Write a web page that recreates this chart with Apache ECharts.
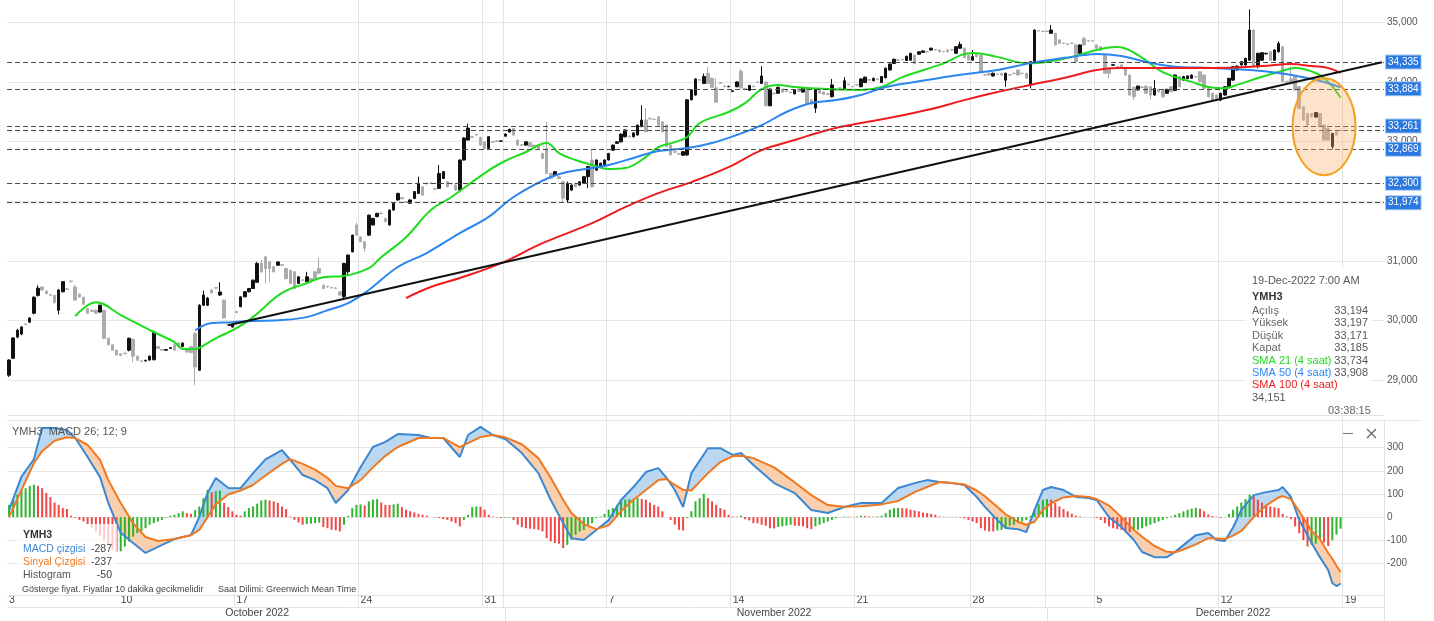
<!DOCTYPE html>
<html>
<head>
<meta charset="utf-8">
<title>YMH3 4 saat</title>
<script src="https://cdn.jsdelivr.net/npm/echarts/dist/echarts.min.js"></script>
<style>
  html, body { margin: 0; padding: 0; background: #fff; }
  #main { width: 1434px; height: 621px; }
</style>
</head>
<body>
<div id="main"></div>
<script>
// 4 saatlik mumlar: ayrı haftalar, her satır [açılış, kapanış, düşük, yüksek]
var oct03 = [
  [29080,29335,29050,29345],[29365,29705,29350,29720],[29720,29835,29700,29860],[29770,29890,29750,29900],[29940,29930,29920,29950],
  [29970,30040,29960,30050],[30120,30390,30100,30400],[30420,30540,30400,30590],[30560,30510,30500,30570],[30490,30450,30440,30500],
  [30430,30420,30410,30440],[30420,30300,30280,30430],[30170,30510,30100,30520],[30480,30650,30470,30660],[30530,30520,30510,30540],
  [30660,30650,30640,30670],[30560,30340,30330,30600],[30440,30390,30380,30450],[30390,30270,30260,30400],[30200,30120,30110,30210],
  [30170,30150,30140,30180],[30170,30120,30110,30180],[30140,30255,30130,30265],[30170,29700,29680,30180],[29700,29590,29580,29710],
  [29590,29500,29490,29600],[29500,29420,29410,29510]
];
var oct10 = [
  [29440,29410,29400,29450],[29450,29440,29430,29460],[29500,29700,29480,29710],[29680,29400,29300,29700],[29400,29330,29320,29410],
  [29320,29310,29300,29330],[29320,29330,29310,29340],[29335,29400,29320,29410],[29340,29800,29330,29830],[29560,29530,29520,29570],
  [29510,29500,29490,29520],[29500,29510,29490,29520],[29530,29540,29520,29550],[29590,29500,29490,29670],[29620,29560,29550,29630],
  [29560,29620,29550,29630],[29530,29470,29460,29540],[29560,29460,29450,29570],[29780,29220,28915,29800],[29165,30255,29150,30270],
  [30255,30425,30240,30500],[30255,30375,30240,30390],[30510,30460,30450,30520],[30550,30540,30530,30560],[30425,30475,30410,30640],
  [30340,30040,30030,30350],[29930,29920,29910,29940],[29890,29930,29880,29940]
];
var oct17 = [
  [30150,30130,30120,30160],[30230,30395,30220,30400],[30395,30480,30390,30490],[30480,30535,30470,30545],[30535,30675,30530,30685],
  [30640,30955,30630,30980],[30955,30815,30800,31010],[31065,30870,30620,31080],[30980,30870,30650,30990],[30900,30815,30805,30910],
  [30925,30980,30915,30990],[30935,30925,30915,30945],[30870,30700,30690,30880],[30840,30620,30610,30850],[30815,30535,30525,30825],
  [30620,30730,30610,30740],[30680,30670,30660,30690],[30650,30730,30640,30815],[30700,30675,30665,30710],[30815,30700,30690,30825],
  [30870,30790,30780,31050],[30590,30535,30525,30600],[30570,30560,30550,30580],[30550,30545,30535,30560],[30545,30535,30525,30555],
  [30480,30425,30415,30490],[30395,30955,30340,30965],[30815,31095,30760,31105],[31150,31430,31140,31440],[31600,31430,31420,31640]
];
var oct24 = [
  [31400,31320,31310,31410],[31320,31210,31150,31330],[31430,31765,31420,31775],[31600,31710,31590,31720],[31740,31795,31730,31805],
  [31800,31790,31780,31810],[31710,31655,31645,31720],[31600,31850,31590,31860],[31850,31965,31840,31975],[32020,32130,32010,32140],
  [32060,32040,32030,32070],[31990,31980,31970,32000],[31965,32020,31955,32030],[32045,32160,32035,32170],[32130,32300,32120,32410],
  [32240,32100,32090,32250],[32300,32290,32280,32310],[32300,32300,32290,32310],[32215,32200,32190,32225],[32215,32465,32205,32605],
  [32380,32495,32370,32505],[32325,32240,32230,32335],[32300,32290,32280,32310],[32270,32185,32175,32280],[32185,32690,32175,32700],
  [32690,33060,32680,33070],[33025,33225,33015,33300],[33080,33070,33060,33090],[33120,33110,33100,33130],[33070,32940,32930,33080]
];
var oct31 = [
  [32995,32885,32875,33005],[32885,33080,32875,33090],[33000,32990,32980,33010],[33010,33005,32995,33020],[33005,33010,32995,33020],
  [33090,33125,33080,33135],[33160,33205,33150,33215],[33220,33110,33100,33230],[33025,32940,32930,33035],[32945,32940,32930,32955],
  [32940,32995,32930,33005],[32980,32915,32905,32990],[32940,32900,32890,32950],[32940,32885,32875,32950],[32800,32715,32705,32810],
  [32885,32465,32455,33330],[32465,32380,32370,32475],[32435,32495,32425,32505],[32410,32380,32370,32420],[32325,32050,31990,32340],
  [32020,32300,31975,32330],[32185,32270,32175,32280],[32300,32240,32230,32310],[32270,32325,32260,32335],[32300,32410,32290,32420],
  [32410,32580,32220,32590],[32690,32240,32230,32870],[32520,32690,32510,32700],[32575,32635,32565,32645],[32605,32690,32595,32700]
];
var nov07 = [
  [32690,32800,32680,32810],[32855,32940,32845,32950],[32970,32995,32960,33005],[32995,33125,32985,33135],[33080,33195,33070,33205],
  [33090,33080,33070,33100],[33080,33145,33070,33155],[33110,33275,33100,33285],[33250,33360,33240,33610],[33360,33165,33155,33560],
  [33390,33380,33370,33400],[33375,33370,33360,33385],[33415,33275,33265,33425],[33330,33165,33155,33340],[33275,32915,32905,33285],
  [32940,32775,32765,32950],[32830,32820,32810,32840],[32800,32790,32780,32810],[32770,32830,32760,32840],[32775,33700,32760,33710],
  [33700,33870,33690,33880],[33780,34050,33770,34060],[34040,34030,34020,34050],[33975,34090,33965,34140],[34145,33975,33965,34250],
  [34060,33910,33900,34070],[33900,33660,33650,34060],[33990,33975,33965,34000],[33930,33920,33910,33940],[33920,33925,33910,33935]
];
var nov14 = [
  [33840,33850,33830,33860],[33920,34000,33910,34010],[34180,33900,33890,34215],[33890,33880,33870,33900],[33860,33940,33850,33950],
  [33930,33920,33910,33940],[34000,33990,33980,34010],[33975,34100,33965,34265],[34000,33600,33590,34010],[33600,33880,33590,33890],
  [33810,33800,33790,33820],[33810,33910,33800,33920],[33880,33830,33820,33890],[33850,33840,33830,33860],[33830,33820,33810,33840],
  [33800,33870,33790,33880],[33880,33840,33830,33890],[33830,33900,33820,33910],[33870,33640,33630,33880],[33700,33630,33620,33710],
  [33560,33880,33480,33890],[33880,33810,33800,33890],[33830,33790,33780,33840],[33800,33790,33780,33810],[33750,33950,33740,34050],
  [33880,33870,33860,33890],[33900,33895,33885,33910],[33880,34020,33870,34080],[33960,33950,33940,33970],[33925,33920,33910,33935]
];
var nov21 = [
  [33955,33950,33940,33965],[33920,34050,33910,34060],[33990,34080,33980,34090],[34040,34030,34020,34050],[34020,34060,34010,34070],
  [34050,34040,34030,34060],[33990,34090,33980,34100],[34070,34230,34060,34240],[34200,34300,34190,34310],[34310,34380,34300,34390],
  [34370,34360,34350,34380],[34380,34370,34360,34390],[34360,34430,34350,34440],[34365,34480,34355,34490],[34450,34310,34300,34460],
  [34465,34505,34455,34515],[34495,34520,34485,34530],[34510,34505,34495,34520],[34535,34565,34525,34575],[34540,34535,34525,34550],
  [34535,34505,34495,34545],[34510,34505,34495,34520],[34535,34505,34495,34545],[34540,34535,34525,34550],[34480,34590,34470,34600],
  [34565,34630,34555,34675],[34565,34410,34400,34575],[34450,34365,34355,34460]
];
var nov28 = [
  [34365,34425,34355,34535],[34480,34425,34410,34490],[34450,34170,34160,34460],[34120,34115,34105,34130],[34145,34115,34105,34155],
  [34100,34145,34090,34155],[34130,34125,34115,34140],[34145,34115,34105,34155],[34030,34145,33920,34155],[34120,34115,34105,34130],
  [34145,34140,34130,34155],[34200,34115,34105,34210],[34145,34140,34130,34155],[34145,34060,34050,34155],[33950,34340,33890,34350],
  [34340,34870,34330,34880],[34860,34855,34845,34870],[34850,34845,34835,34860],[34850,34845,34835,34860],[34815,34870,34805,34955],
  [34815,34620,34610,34825],[34705,34645,34635,34715],[34650,34645,34635,34660],[34640,34630,34620,34650],[34650,34645,34635,34660],
  [34620,34340,34330,34630],[34480,34620,34470,34630],[34730,34620,34610,34760],[34690,34685,34675,34700],[34690,34685,34675,34700]
];
var dec05 = [
  [34620,34565,34555,34630],[34590,34535,34525,34600],[34450,34145,34135,34460],[34230,34145,34060,34240],[34280,34290,34270,34300],
  [34260,34255,34245,34270],[34285,34230,34220,34295],[34230,34115,34105,34240],[34115,33780,33770,34130],[33910,33750,33695,33920],
  [33865,33930,33855,33940],[33910,33910,33900,33920],[33930,33810,33800,33940],[33920,33780,33705,33930],[33780,33890,33770,34030],
  [33875,33835,33825,33885],[33855,33750,33740,33865],[33810,33875,33800,33885],[33920,33835,33825,33930],[33855,34115,33845,34125],
  [34090,33920,33910,34100],[34030,34090,34020,34100],[34055,34100,34045,34110],[34060,34115,34050,34125],[34090,34085,34075,34100],
  [34170,34005,33995,34180],[34115,33890,33880,34125],[33890,33750,33740,33900],[33810,33695,33685,33820],[33780,33695,33685,33790]
];
var dec12 = [
  [33695,33810,33680,33820],[33780,33920,33770,33930],[33920,34060,33910,34070],[34030,34255,34020,34265],[34200,34265,34190,34275],
  [34285,34340,34275,34350],[34285,34395,34275,34405],[34365,34870,34355,35215],[34870,34255,34245,34880],[34255,34480,34230,34490],
  [34365,34490,34355,34500],[34470,34480,34460,34490],[34505,34365,34355,34515],[34365,34535,34355,34545],[34505,34645,34495,34680],
  [34590,34005,33995,34600],[34010,34000,33990,34020],[34050,34000,33990,34255],[34090,33865,33855,34100],[33920,33555,33545,33930],
  [33585,33360,33350,33595],[33470,33275,33250,33480],[33470,33415,33405,33480],[33410,33485,33400,33495],[33470,33250,33240,33480],
  [33275,33025,33015,33285],[33220,33025,33015,33230],[32915,33135,32870,33145],[33165,33110,33100,33175],[33194,33185,33171,33197]
];

// hareketli ortalamalar: [mum sırası, değer]
var sma21 = [[16,30070],[21,30305],[27,30090],[35,29805],[40,29635],[42,29520],[45,29520],[48,29620],[50,29700],[55,29870],
  [59,30055],[66,30460],[72,30625],[76,30725],[81,30745],[87,30875],[90,31060],[96,31395],[102,31850],[107,32070],
  [114,32420],[119,32640],[125,32825],[130,32975],[133,32805],[137,32690],[141,32605],[145,32540],[149,32555],[154,32740],
  [157,32905],[161,32990],[164,33075],[167,33310],[174,33495],[178,33645],[182,33880],[186,33950],[190,33915],[198,33880],
  [206,33865],[211,33915],[216,34080],[225,34285],[233,34485],[239,34420],[246,34315],[251,34335],[257,34420],[263,34535],
  [268,34585],[273,34450],[279,34165],[286,34000],[290,33915],[294,33895],[297,33950],[302,34065],[307,34165],[311,34235],
  [316,34150],[319,34000],[322,33734]];
var sma50 = [[45,29835],[49,29955],[54,29970],[59,29990],[66,30005],[72,30055],[77,30170],[82,30290],[87,30510],[94,30895],
  [101,31130],[109,31465],[116,31735],[121,32020],[126,32235],[131,32405],[135,32490],[141,32555],[145,32605],[151,32725],
  [157,32840],[164,32890],[170,32975],[176,33110],[182,33275],[188,33495],[194,33645],[200,33695],[206,33780],[212,33915],
  [219,34000],[225,34065],[231,34130],[239,34200],[247,34315],[257,34420],[263,34470],[269,34435],[275,34335],[283,34250],
  [291,34235],[300,34200],[307,34150],[313,34080],[318,34000],[322,33908]];
var sma100 = [[96,30375],[102,30560],[109,30710],[119,30960],[129,31295],[141,31630],[149,31900],[157,32135],[165,32320],
  [174,32570],[182,32855],[190,33025],[198,33195],[206,33310],[214,33410],[223,33545],[231,33695],[239,33830],[247,33950],
  [255,34065],[263,34200],[268,34235],[279,34235],[291,34235],[303,34265],[310,34300],[315,34265],[319,34235],[322,34151]];

// trend çizgisi ve yatay seviyeler
var trendLine = [[53, 29920], [332, 34330]];
var levels = [34335, 33884, 33261, 32869, 32300, 31974];
var lastPrice = 33185;

// MACD 26;12;9
var macdIdx = [0,3,6,8,11,14,16,19,22,24,27,30,33,36,40,44,46,48,50,53,56,59,62,66,68,71,74,77,79,82,
  85,88,91,94,99,102,105,109,111,114,117,120,124,128,131,134,136,139,142,145,148,151,154,157,159,161,163,165,169,172,
  175,177,180,185,190,194,198,202,206,211,215,219,222,225,228,231,234,236,239,241,244,246,248,250,252,255,258,261,263,266,
  269,272,274,277,280,282,284,287,290,292,294,296,298,301,304,307,308,310,312,315,317,319,320,321,322];
var macdVals = [31,175,250,385,385,377,342,260,173,61,-68,-112,-155,-129,-95,-77,0,104,169,126,125,190,250,290,247,182,160,125,61,117,
  216,303,325,359,355,342,342,260,355,390,355,338,277,190,74,-26,-91,-99,-56,-13,74,130,195,212,170,117,44,190,298,298,
  269,277,225,147,104,31,18,44,61,61,126,147,160,152,147,139,87,44,-13,-47,-52,-65,31,117,130,117,87,83,74,0,
  -43,-99,-151,-173,-173,-150,-121,-78,-69,-99,-103,-45,31,95,108,117,130,87,-13,-112,-173,-229,-285,-298,-287];
var sigVals = [0,117,234,285,330,345,342,312,247,160,61,-26,-86,-103,-95,-78,-55,0,55,98,115,139,180,230,251,230,205,170,135,125,
  160,215,265,303,342,342,342,303,320,346,355,345,315,255,170,75,18,-30,-52,-35,25,75,117,160,165,139,118,115,190,238,
  264,265,255,215,150,95,52,45,47,55,70,108,130,152,147,141,115,90,44,12,-20,-33,-20,31,60,85,91,87,78,50,
  0,-55,-85,-125,-150,-152,-140,-118,-91,-92,-95,-80,-60,0,50,85,91,78,25,-60,-95,-155,-180,-210,-237];
var histOct = [53,75,97,118,125,135,140,135,125,104,87,63,53,39,35,6,-4,-12,-19,-30,
  -45,-62,-80,-100,-120,-141,-150,-148,-127,-105,-84,-69,-62,-48,-33,-26,-19,-12,-3,6,
  10,17,25,17,14,30,46,82,118,108,112,115,61,43,25,10,6,25,39,46,
  58,72,75,72,68,61,46,35,3,-12,-23,-33,-30,-28,-26,-24,-43,-48,-55,-57,
  -62,-33,5,39,53,55,50,68,75,78,63,53,52,55,58,43,32,25,20,14,10,6,0,-2,-4,-8,-12,-19];
var histNov = [-26,-40,-12,10,43,46,45,32,10,3,-2,-4,-3,-2,-12,-33,-43,-48,-50,-52,-55,-62,
  -91,-105,-112,-115,-134,-120,-98,-76,-62,-55,-33,-26,-4,3,14,32,39,53,75,76,
  78,79,82,78,75,63,53,46,25,0,-12,-33,-55,-58,-4,25,68,82,101,82,
  68,53,39,32,10,3,2,6,-9,-14,-26,-27,-33,-37,-48,-49,-43,-40,-37,-33,
  -37,-38,-40,-48,-52,-40,-33,-26,-19,-12,-4,-1,3,2,1,3,6,5,3,2,3,6,17,32,39,40];
var histDec = [39,38,32,29,25,20,17,14,10,3,2,1,1,1,-2,-5,-12,-19,-26,-48,-58,-62,-62,-58,
  -55,-48,-37,-33,-26,-19,-12,5,32,55,75,78,76,61,46,35,25,14,6,3,
  1,0,1,-4,-12,-26,-40,-48,-52,-55,-62,-65,-58,-55,-48,-40,-33,-26,-19,-12,
  -4,3,10,17,25,32,37,40,36,25,12,5,2,-3,1,14,32,46,63,78,
  97,90,75,63,53,46,43,39,14,3,-9,-40,-70,-100,-127,-120,-115,-100,-110,-125,-100,-75,-50];

// zaman ekseni: haftanın ilk mumu ve etiketi, ay başları
var barCount = 333;
var weekStart = [0, 27, 55, 85, 115, 145, 175, 205, 233, 263, 293, 323];
var weekLabel = ['3', '10', '17', '24', '31', '7', '14', '21', '28', '5', '12', '19'];
var monthStart = [120, 251];
var months = [['October 2022', 0, 120], ['November 2022', 120, 251], ['December 2022', 251, 341]];

var FONT = "'Liberation Sans', Arial, sans-serif";
var GREEN = '#1fdc1f', BLUE = '#2b86f0', RED = '#ee1c1c';
var MACD_BLUE = '#3a88d2', SIG_ORANGE = '#f07820';
var FILL_BLUE = '#bcd7f0', FILL_ORANGE = '#f9cfae';

var candles = oct03.concat(oct10, oct17, oct24, oct31, nov07, nov14, nov21, nov28, dec05, dec12);
var hist = histOct.concat(histNov, histDec);

var cats = [];
for (var i = 0; i < barCount; i++) cats.push('b' + i);
var splitIdx = weekStart.slice(1).concat(monthStart);

function fmt(n) {
  var s = String(Math.abs(Math.round(n))).replace(/\B(?=(\d{3})+(?!\d))/g, ',');
  return (n < 0 ? '-' : '') + s;
}

var histData = hist.map(function (v, k) {
  var up = k === 0 ? v >= 0 : v > hist[k - 1];
  return { value: [k, v], itemStyle: { color: up ? '#2cb52c' : '#f04646' } };
});

// dolgu: MACD ile sinyal arası
function renderFill(params, api) {
  var k = params.dataIndex;
  if (k >= macdIdx.length - 1) return null;
  var d0 = macdVals[k] - sigVals[k], d1 = macdVals[k + 1] - sigVals[k + 1];
  var a0 = api.coord([macdIdx[k], macdVals[k]]), a1 = api.coord([macdIdx[k + 1], macdVals[k + 1]]);
  var b0 = api.coord([macdIdx[k], sigVals[k]]), b1 = api.coord([macdIdx[k + 1], sigVals[k + 1]]);
  var kids = [];
  function poly(pts, d) {
    var c = d >= 0 ? FILL_BLUE : FILL_ORANGE;
    kids.push({ type: 'polygon', shape: { points: pts }, style: { fill: c, stroke: c, lineWidth: 0.6 } });
  }
  if (d0 * d1 >= 0) {
    poly([a0, a1, b1, b0], d0 + d1);
  } else {
    var t = d0 / (d0 - d1);
    var c = [a0[0] + (a1[0] - a0[0]) * t, a0[1] + (a1[1] - a0[1]) * t];
    poly([a0, c, b0], d0);
    poly([c, a1, b1], d1);
  }
  return { type: 'group', children: kids };
}

function hiddenCat(grid) {
  return {
    type: 'category', gridIndex: grid, data: cats, boundaryGap: true,
    axisLine: { show: false }, axisTick: { show: false }, axisLabel: { show: false }, splitLine: { show: false }
  };
}

var xMacd = hiddenCat(1);
xMacd.axisLabel = {
  show: true, margin: 8, align: 'left', color: '#444', fontSize: 10.5, fontFamily: FONT,
  interval: function (idx) { return weekStart.indexOf(idx) >= 0; },
  formatter: function (v, idx) { return weekLabel[weekStart.indexOf(idx)]; }
};
var xFrame = hiddenCat(2);
xFrame.splitLine = {
  show: true, showMinLine: false, showMaxLine: false,
  interval: function (idx) { return splitIdx.indexOf(idx) >= 0; },
  lineStyle: { color: '#e4e4e4', width: 1 }
};

var option = {
  animation: false,
  backgroundColor: '#fff',
  textStyle: { fontFamily: FONT },
  grid: [
    { left: 7, right: 50, top: 22.3, height: 357.7, outerBoundsMode: 'none' },
    { left: 7, right: 50, top: 424.6, height: 161.9, outerBoundsMode: 'none' },
    { left: 7, right: 50, top: 0, height: 607, outerBoundsMode: 'none' }
  ],
  xAxis: [hiddenCat(0), xMacd, xFrame],
  yAxis: [
    {
      type: 'value', gridIndex: 0, position: 'right', min: 29000, max: 35000, interval: 1000,
      axisLine: { show: false }, axisTick: { show: false },
      axisLabel: { margin: 3, color: '#555', fontSize: 10, formatter: fmt },
      splitLine: { lineStyle: { color: '#e6e6e6' } }
    },
    {
      type: 'value', gridIndex: 1, position: 'right', min: -300, max: 400, interval: 100,
      axisLine: { show: false }, axisTick: { show: false },
      axisLabel: { margin: 3, color: '#555', fontSize: 10,
        formatter: function (v) { return (v === 400 || v === -300) ? '' : String(v); } },
      splitLine: { showMinLine: false, showMaxLine: false, lineStyle: { color: '#e6e6e6' } }
    },
    { type: 'value', gridIndex: 2, show: false }
  ],
  series: [
    {
      name: 'YMH3', type: 'candlestick', xAxisIndex: 0, yAxisIndex: 0, data: candles,
      barWidth: 3, clip: false, z: 2,
      itemStyle: { color: '#111', color0: '#acacac', borderColor: '#111', borderColor0: '#acacac', borderColorDoji: '#999', borderWidth: 1 },
      markLine: {
        silent: true, symbol: ['none', 'none'], animation: false,
        lineStyle: { color: '#4a4a4a', type: [5, 3], width: 1 },
        label: {
          position: 'end', distance: 2, color: '#fff', fontSize: 10, fontFamily: FONT,
          backgroundColor: '#2a78e0', borderColor: '#a8c8f2', borderWidth: 1, padding: [2, 2, 1, 2],
          formatter: function (p) { return fmt(p.value); }
        },
        data: levels.map(function (v) { return { yAxis: v }; })
          .concat([{ yAxis: lastPrice, label: { show: false } }])
      }
    },
    { name: 'SMA 21', type: 'line', xAxisIndex: 0, yAxisIndex: 0, data: sma21, smooth: 0.4, showSymbol: false, clip: false, z: 4,
      lineStyle: { color: GREEN, width: 2 } },
    { name: 'SMA 50', type: 'line', xAxisIndex: 0, yAxisIndex: 0, data: sma50, smooth: 0.4, showSymbol: false, clip: false, z: 4,
      lineStyle: { color: BLUE, width: 2 } },
    { name: 'SMA 100', type: 'line', xAxisIndex: 0, yAxisIndex: 0, data: sma100, smooth: 0.4, showSymbol: false, clip: false, z: 4,
      lineStyle: { color: RED, width: 2 } },
    { name: 'Trend', type: 'line', xAxisIndex: 0, yAxisIndex: 0, data: trendLine, showSymbol: false, clip: false, z: 5,
      lineStyle: { color: '#111', width: 2 } },
    {
      name: 'fill', type: 'custom', xAxisIndex: 1, yAxisIndex: 1, z: 1, clip: false,
      data: macdIdx.map(function (x, k) { return [x, macdVals[k], sigVals[k]]; }),
      encode: { x: 0, y: [1, 2] },
      renderItem: renderFill
    },
    { name: 'Histogram', type: 'bar', xAxisIndex: 1, yAxisIndex: 1, data: histData, barWidth: 2, z: 2 },
    { name: 'MACD çizgisi', type: 'line', xAxisIndex: 1, yAxisIndex: 1, showSymbol: false, clip: false, z: 3,
      data: macdIdx.map(function (x, k) { return [x, macdVals[k]]; }), lineStyle: { color: MACD_BLUE, width: 2 } },
    { name: 'Sinyal Çizgisi', type: 'line', xAxisIndex: 1, yAxisIndex: 1, showSymbol: false, clip: false, z: 3,
      data: macdIdx.map(function (x, k) { return [x, sigVals[k]]; }), lineStyle: { color: SIG_ORANGE, width: 2 } }
  ]
};

var chart = echarts.init(document.getElementById('main'));
chart.setOption(option);

// yardımcı çizimler: metinler, kutular, elips
function txt(x, y, s, color, size, extra) {
  var st = { text: s, x: x, y: y, fill: color, font: (extra && extra.bold ? 'bold ' : '') + size + 'px ' + FONT,
    align: (extra && extra.align) || 'left', verticalAlign: 'middle' };
  return { type: 'text', z: 110, style: st };
}
function hline(x1, x2, y, color) {
  return { type: 'line', z: 90, shape: { x1: x1, y1: y + 0.5, x2: x2, y2: y + 0.5 }, style: { stroke: color, lineWidth: 1 } };
}
function vline(x, y1, y2, color) {
  return { type: 'line', z: 90, shape: { x1: x + 0.5, y1: y1, x2: x + 0.5, y2: y2 }, style: { stroke: color, lineWidth: 1 } };
}

var last = candles[candles.length - 1];
var g = [];
g.push(hline(7, 1384, 415, '#e4e4e4'), hline(7, 1420, 420, '#e4e4e4'));
g.push(hline(7, 1384, 595, '#e0e0e0'), hline(7, 1384, 607, '#e4e4e4'), vline(1384, 420, 621, '#e0e0e0'));

months.forEach(function (m) {
  var cx = chart.convertToPixel({ xAxisIndex: 1 }, (m[1] + m[2]) / 2 - 0.5);
  g.push(txt(cx, 613, m[0], '#444', 10.5, { align: 'center' }));
});
monthStart.forEach(function (idx) {
  var x = Math.round(chart.convertToPixel({ xAxisIndex: 1 }, idx - 0.5));
  g.push(vline(x, 607, 621, '#e0e0e0'));
});

// turuncu elips
var ec = chart.convertToPixel({ gridIndex: 0 }, [318, 33250]);
g.push({ type: 'ellipse', z: 60, shape: { cx: ec[0], cy: ec[1], rx: 31.5, ry: 48.5 },
  style: { fill: 'rgba(250,175,100,0.35)', stroke: '#f4a224', lineWidth: 2 } });

// bilgi kutusu
g.push({ type: 'rect', z: 100, shape: { x: 1246, y: 268, width: 126, height: 147 }, style: { fill: '#fff' } });
g.push(txt(1252, 281, '19-Dec-2022 7:00 AM', '#555', 11));
g.push(txt(1252, 296.5, 'YMH3', '#333', 11, { bold: true }));
var rows = [
  ['Açılış', fmt(last[0]), '#666'], ['Yüksek', fmt(last[3]), '#666'], ['Düşük', fmt(last[2]), '#666'], ['Kapat', fmt(last[1]), '#666'],
  ['SMA 21 (4 saat)', fmt(sma21[sma21.length - 1][1]), GREEN], ['SMA 50 (4 saat)', fmt(sma50[sma50.length - 1][1]), BLUE],
  ['SMA 100 (4 saat)', '', RED]
];
rows.forEach(function (r, k) {
  var y = 311 + k * 12.4;
  g.push(txt(1252, y, r[0], r[2], 11));
  if (r[1]) g.push(txt(1368, y, r[1], '#555', 11, { align: 'right' }));
});
g.push(txt(1252, 397.8, fmt(sma100[sma100.length - 1][1]), '#555', 11));
g.push(txt(1328, 410.5, '03:38:15', '#666', 11));

// MACD paneli başlık ve lejant
g.push(txt(12, 432, 'YMH3  MACD 26; 12; 9', '#555', 11));
g.push(hline(1343, 1353, 433, '#777'));
g.push({ type: 'line', z: 110, shape: { x1: 1367, y1: 429, x2: 1376, y2: 438 }, style: { stroke: '#666', lineWidth: 1.3 } });
g.push({ type: 'line', z: 110, shape: { x1: 1376, y1: 429, x2: 1367, y2: 438 }, style: { stroke: '#666', lineWidth: 1.3 } });
g.push({ type: 'rect', z: 100, shape: { x: 17, y: 524, width: 100, height: 60 }, style: { fill: 'rgba(255,255,255,0.72)' } });
g.push(txt(23, 535.5, 'YMH3', '#333', 10.5, { bold: true }));
var legendRows = [
  ['MACD çizgisi', macdVals[macdVals.length - 1], MACD_BLUE],
  ['Sinyal Çizgisi', sigVals[sigVals.length - 1], SIG_ORANGE],
  ['Histogram', hist[hist.length - 1], '#555']
];
legendRows.forEach(function (r, k) {
  var y = 549.5 + k * 12.8;
  g.push(txt(23, y, r[0], r[2], 10.5));
  g.push(txt(112, y, String(r[1]), '#444', 10.5, { align: 'right' }));
});
g.push(txt(22, 589.5, 'Gösterge fiyat. Fiyatlar 10 dakika gecikmelidir', '#444', 9));
g.push(txt(218, 589.5, 'Saat Dilimi: Greenwich Mean Time', '#444', 9));

chart.setOption({ graphic: { elements: g } });
</script>
</body>
</html>
